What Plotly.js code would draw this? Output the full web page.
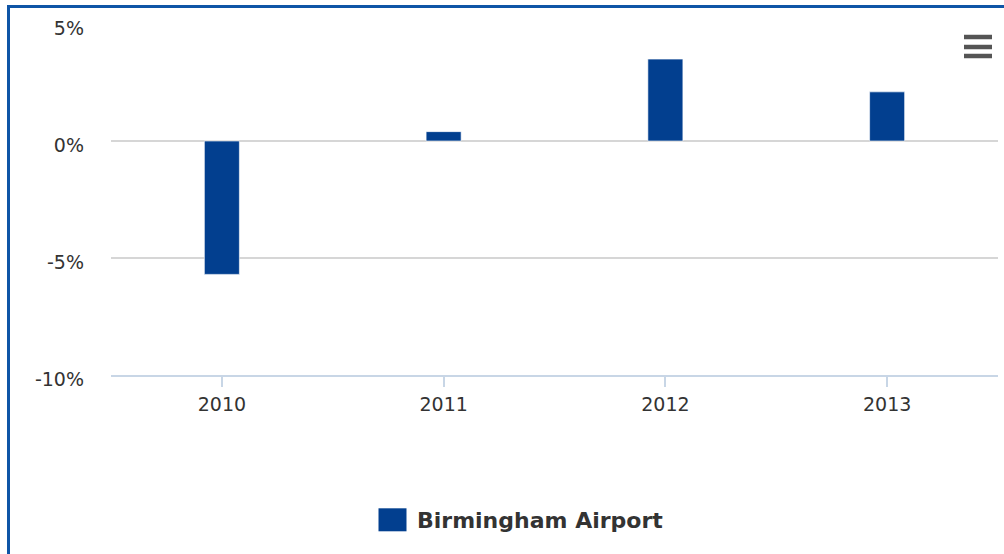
<!DOCTYPE html>
<html>
<head>
<meta charset="utf-8">
<script src="https://cdn.plot.ly/plotly-3.0.1.min.js"></script>
<style>
  html, body { margin: 0; padding: 0; background: #fff; }
  #wrap { position: relative; width: 1004px; height: 554px; overflow: hidden; }
  #chart { width: 1004px; height: 554px; }
  #frame { position: absolute; left: 7px; top: 5px; width: 1004px; height: 560px;
           border-left: 3px solid #0f55a6; border-top: 3px solid #0f55a6;
           pointer-events: none; box-sizing: border-box; }
</style>
</head>
<body>
<div id="wrap">
  <div id="chart"></div>
  <div id="frame"></div>
</div>
<script>
// Data
const years = ['2010', '2011', '2012', '2013'];
const growth = [-5.7, 0.4, 3.5, 2.1];
const seriesName = 'Birmingham Airport';
const yTickVals = [-10, -5, 0, 5];
const yTickText = ['-10%', '-5%', '0%', '5%'];

const W = 1004, H = 554;
const M = { l: 111, r: 6, t: 24, b: 179 };
const plotW = W - M.l - M.r, plotH = H - M.t - M.b;
const px = x => (x - M.l) / plotW;
const py = y => (H - M.b - y) / plotH;

const font = 'DejaVu Sans, Verdana, sans-serif';

const trace = {
  type: 'bar',
  x: years,
  y: growth,
  name: seriesName,
  marker: { color: '#023f8f', line: { color: 'rgba(255,255,255,0.6)', width: 1 } },
  showlegend: true,
  hoverinfo: 'x+y'
};

// hamburger menu icon (decoration)
const menuShapes = [37, 47, 56].map(yy => ({
  type: 'line', xref: 'paper', yref: 'paper',
  x0: px(964), x1: px(992), y0: py(yy), y1: py(yy),
  line: { color: '#555555', width: 4.5 }
}));

const layout = {
  width: W, height: H,
  margin: M,
  paper_bgcolor: '#ffffff',
  plot_bgcolor: '#ffffff',
  font: { family: font, size: 19, color: '#3c3c3c' },
  bargap: 0.842,
  xaxis: {
    type: 'category',
    showgrid: false,
    showline: true, linecolor: '#c8d6e6', linewidth: 2,
    ticks: 'outside', ticklen: 10, tickwidth: 2, tickcolor: '#c8d6e6',
    tickfont: { family: font, size: 19, color: '#333333' },
    ticklabelstandoff: 1,
    zeroline: false,
    fixedrange: true
  },
  yaxis: {
    range: [-10, 5],
    tickvals: yTickVals,
    ticktext: yTickText,
    showgrid: true, gridcolor: '#d6d6d6', gridwidth: 2,
    zeroline: true, zerolinecolor: '#d6d6d6', zerolinewidth: 2,
    showline: false, ticks: '',
    ticklabelstandoff: 26,
    ticklabelshift: 4,
    tickfont: { family: font, size: 19, color: '#333333' },
    fixedrange: true
  },
  showlegend: true,
  legend: {
    orientation: 'h',
    x: px(523), xanchor: 'center',
    y: py(520), yanchor: 'middle',
    font: { family: font, size: 22, color: '#333333', weight: 'bold' },
    bgcolor: 'rgba(0,0,0,0)'
  },
  shapes: menuShapes
};

Plotly.newPlot('chart', [trace], layout, { displayModeBar: false }).then(() => {
  document.querySelectorAll('#chart .legendpoints path').forEach(p => {
    p.setAttribute('d', 'M9.5,11.5H-18.5V-11.5H9.5Z');
    p.style.strokeWidth = '0';
  });
});
</script>
</body>
</html>
